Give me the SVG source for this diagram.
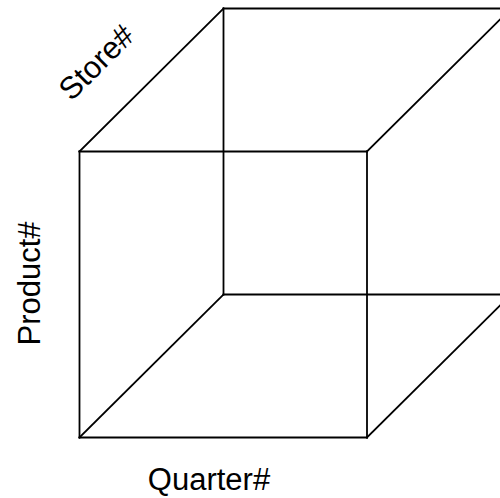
<svg xmlns="http://www.w3.org/2000/svg" width="500" height="498" viewBox="0 0 500 498">
<style>
.e{stroke:#000;stroke-width:1.8;fill:none;stroke-linecap:square}
.t{font-family:"Liberation Sans",Arial,sans-serif;font-size:31px;fill:#000;text-anchor:middle}
</style>
<rect width="500" height="498" fill="#fff"/>
<g id="connectors">
<line class="e" x1="79.5" y1="151.5" x2="367" y2="151.5"/>
<line class="e" x1="79.5" y1="437.5" x2="367" y2="437.5"/>
<line class="e" x1="79.5" y1="151.5" x2="79.5" y2="437.5"/>
<line class="e" x1="367" y1="151.5" x2="367" y2="437.5"/>
<line class="e" x1="223.5" y1="8.5" x2="511" y2="8.5"/>
<line class="e" x1="223.5" y1="294.5" x2="511" y2="294.5"/>
<line class="e" x1="223.5" y1="8.5" x2="223.5" y2="294.5"/>
<line class="e" x1="79.5" y1="151.5" x2="223.5" y2="8.5"/>
<line class="e" x1="367" y1="151.5" x2="511" y2="8.5"/>
<line class="e" x1="79.5" y1="437.5" x2="223.5" y2="294.5"/>
<line class="e" x1="367" y1="437.5" x2="511" y2="294.5"/>
</g>
<g id="label-quarter"><text class="t" x="209" y="490">Quarter#</text></g>
<g id="label-product"><text class="t" transform="translate(40,283.5) rotate(-90)">Product#</text></g>
<g id="label-store"><text class="t" transform="translate(103.8,69.8) rotate(-45)">Store#</text></g>
</svg>
